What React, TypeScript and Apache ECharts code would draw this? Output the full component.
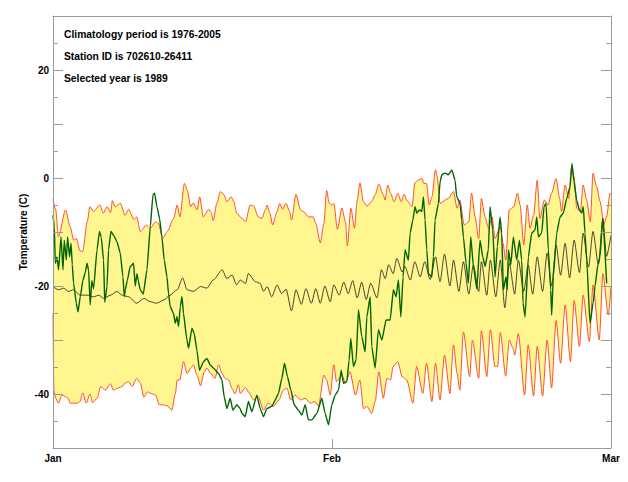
import React, { useEffect, useRef } from "react";
import * as echarts from "echarts";

// x = days since 1 Jan, y = temperature (C)
const monthLabels = ["Jan", "Feb", "Mar"];
const yTickLabels = [20, 0, -20, -40];
const yAxisTitle = "Temperature (C)";
const infoLines = [
  "Climatology period is 1976-2005",
  "Station ID is 702610-26411",
  "Selected year is 1989",
];

const maxEnvelope: number[][] = [
  [0,-3.9],[0.3,-5.9],[0.6,-10.9],[1.4,-5.9],[1.9,-9.0],[2.3,-11.5],[2.6,-11.2],[3.0,-13.5],[3.3,-13.6],[3.8,-8.1],[4.1,-5.3],[4.5,-6.2],[5.2,-5.0],[5.6,-6.5],[6.0,-5.3],[6.4,-6.4],[6.6,-4.2],[6.9,-5.3],[7.5,-4.7],[8.0,-6.9],[8.4,-5.8],[9.0,-7.7],[9.3,-7.2],[9.7,-9.9],[10.4,-8.7],[10.8,-9.3],[11.4,-8.1],[11.7,-8.4],[12.2,-11.2],[12.7,-9.9],[13.4,-7.5],[13.8,-5.0],[14.1,-7.2],[14.6,-1.0],[14.9,-2.2],[15.3,-5.3],[15.6,-4.6],[16.0,-5.9],[16.3,-3.5],[16.7,-7.2],[17.3,-5.8],[17.6,-6.5],[17.8,-7.9],[18.2,-4.7],[18.6,-2.5],[19.0,-3.1],[19.3,-4.4],[19.8,-3.5],[20.1,-4.4],[20.4,-6.5],[21.0,-7.5],[21.4,-8.1],[21.9,-5.0],[22.3,-5.2],[22.8,-7.2],[23.2,-7.5],[23.6,-5.9],[23.8,-5.0],[24.1,-6.5],[24.4,-8.7],[24.9,-6.2],[25.2,-4.7],[25.5,-5.8],[25.9,-4.7],[26.3,-6.2],[26.5,-7.8],[27.0,-3.0],[27.5,-5.9],[27.8,-6.2],[28.4,-7.2],[28.9,-7.2],[29.2,-8.4],[29.7,-12.0],[30.1,-8.4],[30.4,-2.3],[30.7,-4.7],[31.0,-5.0],[31.2,-4.7],[31.6,-9.5],[32.1,-5.6],[32.5,-8.1],[32.7,-12.6],[33.1,-5.6],[33.5,-9.3],[33.8,-4.1],[34.1,-0.9],[34.5,-4.4],[34.9,-5.2],[35.4,-4.4],[35.8,-3.1],[36.2,-1.1],[36.7,-3.1],[36.9,-4.1],[37.2,-1.3],[37.5,-2.8],[37.9,-4.4],[38.3,-2.8],[38.7,-4.4],[39.0,-3.0],[39.3,-4.1],[39.9,-5.3],[40.2,-0.9],[40.6,-0.4],[41.0,-0.1],[41.2,-1.0],[41.5,-1.0],[41.8,-5.0],[42.1,-3.5],[42.5,1.5],[42.7,0.2],[43.0,-4.7],[43.9,-3.8],[44.5,-2.5],[44.9,-5.6],[45.2,-4.1],[45.7,-8.7],[46.2,-8.1],[46.5,-2.8],[46.9,-7.2],[47.3,-11.2],[47.6,-3.8],[48.0,-7.2],[48.4,-9.3],[48.8,-7.2],[49.1,-11.2],[49.7,-9.0],[50.0,-12.1],[50.3,-15.2],[50.7,-5.9],[51.2,-5.3],[51.6,-2.8],[51.9,-5.0],[52.3,-12.4],[52.7,-5.0],[53.0,-9.3],[53.4,-6.9],[53.8,-0.4],[54.1,-7.5],[54.6,-4.1],[55.0,-5.0],[55.4,-2.8],[55.9,-0.1],[56.3,-3.8],[56.5,-6.2],[56.9,-1.3],[57.3,-3.8],[57.6,1.8],[57.9,0.2],[58.2,-5.6],[58.6,-6.2],[58.9,-1.3],[59.3,-4.1],[59.7,-8.1],[60.0,0.9],[60.4,-1.6],[60.8,-4.4],[61.2,-8.7],[61.5,-7.2],[61.9,-2.8],[62,-3.0]
];

const minEnvelope: number[][] = [
  [0,-25.1],[0.1,-39.3],[0.3,-40.8],[0.6,-41.7],[1.0,-40.2],[1.4,-40.5],[1.7,-40.8],[1.9,-41.7],[2.7,-41.7],[3.0,-41.4],[3.3,-39.8],[3.7,-41.7],[4.1,-40.0],[4.4,-41.6],[4.9,-40.8],[5.3,-38.6],[5.8,-39.3],[6.4,-38.1],[6.7,-39.3],[7.2,-38.9],[7.7,-38.6],[8.0,-38.0],[8.4,-37.7],[8.8,-38.6],[9.3,-37.1],[9.7,-38.0],[10.1,-40.6],[10.5,-39.6],[10.9,-39.9],[11.4,-40.2],[11.8,-42.0],[12.3,-42.0],[12.7,-42.2],[13.2,-43.0],[13.6,-39.9],[13.8,-37.4],[14.1,-37.4],[14.5,-34.0],[14.9,-36.2],[15.3,-35.2],[15.6,-34.6],[16.0,-36.5],[16.4,-38.5],[16.8,-35.9],[17.1,-35.2],[17.5,-36.2],[18.0,-37.1],[18.4,-34.6],[18.8,-36.2],[19.1,-37.1],[19.5,-37.4],[19.9,-39.0],[20.2,-40.0],[20.6,-38.3],[20.8,-39.9],[21.4,-38.8],[21.7,-39.6],[22.3,-41.1],[22.8,-40.5],[23.4,-43.0],[23.9,-41.7],[24.5,-42.3],[25.1,-41.1],[25.6,-39.3],[26.0,-38.9],[26.4,-41.1],[26.9,-40.2],[27.5,-41.1],[28.0,-40.8],[28.6,-41.7],[29.1,-41.4],[29.5,-42.3],[30.1,-36.5],[30.4,-37.4],[30.8,-40.2],[31.2,-34.6],[31.5,-37.7],[32.1,-36.5],[32.5,-38.0],[33.0,-35.9],[33.6,-40.2],[34.1,-37.4],[34.5,-42.7],[34.9,-42.3],[35.4,-43.6],[35.8,-41.4],[36.2,-35.9],[36.7,-40.8],[37.1,-37.1],[37.5,-37.4],[37.8,-34.9],[38.3,-34.0],[38.8,-36.8],[39.3,-37.4],[40.0,-41.7],[40.4,-34.9],[41.1,-39.9],[41.5,-34.3],[42.1,-41.4],[42.5,-34.3],[43.0,-41.1],[43.5,-32.8],[44.1,-39.9],[44.5,-30.9],[44.9,-36.2],[45.2,-39.3],[45.6,-28.5],[46.3,-36.8],[46.6,-30.0],[47.3,-37.1],[47.6,-28.3],[48.2,-36.8],[48.6,-28.1],[49.1,-34.9],[49.4,-34.9],[49.7,-28.6],[50.3,-36.7],[50.7,-30.0],[51.1,-31.5],[51.3,-32.8],[51.7,-28.8],[52.4,-40.2],[52.8,-30.9],[53.4,-40.4],[53.8,-31.2],[54.4,-40.4],[54.9,-30.0],[55.4,-38.9],[55.9,-26.4],[56.4,-34.3],[56.9,-23.5],[57.5,-34.0],[57.9,-22.7],[58.5,-31.2],[58.9,-21.7],[59.6,-30.3],[60.0,-19.8],[60.7,-30.0],[61.1,-17.7],[61.7,-25.4],[62,-20.1]
];

const meanClimatology: number[][] = [
  [0,-20.1],[0.6,-20.7],[1.2,-20.4],[1.7,-21.0],[2.3,-20.7],[3.0,-21.7],[3.8,-21.7],[4.5,-22.0],[5.1,-21.7],[5.6,-22.3],[6.4,-21.7],[7.1,-21.0],[7.7,-21.7],[8.4,-22.0],[9.3,-23.2],[10.1,-22.3],[10.8,-22.9],[11.5,-23.2],[12.3,-22.6],[13.0,-21.7],[13.8,-20.7],[14.4,-18.5],[14.9,-20.7],[15.6,-21.0],[16.4,-20.1],[17.1,-20.4],[17.8,-18.9],[18.8,-17.0],[19.3,-18.6],[19.9,-18.0],[20.4,-19.8],[20.8,-18.9],[21.4,-19.5],[21.7,-17.7],[22.5,-19.2],[23.0,-19.5],[23.4,-21.0],[23.8,-20.1],[24.3,-22.0],[24.9,-19.8],[25.4,-21.4],[25.9,-20.6],[26.5,-24.6],[27.0,-20.7],[27.6,-23.4],[28.1,-20.5],[28.7,-23.2],[29.2,-20.5],[29.7,-23.2],[30.2,-20.0],[30.8,-22.9],[31.2,-19.8],[31.8,-21.7],[32.3,-19.3],[32.8,-21.4],[33.3,-19.0],[33.8,-22.2],[34.3,-19.3],[34.8,-22.5],[35.3,-19.5],[36.0,-22.2],[36.5,-17.0],[36.9,-18.6],[37.3,-16.1],[37.8,-17.7],[38.2,-14.9],[38.8,-17.4],[39.1,-16.4],[39.7,-18.9],[40.2,-15.5],[40.8,-18.3],[41.3,-15.5],[41.9,-18.8],[42.5,-14.6],[43.0,-19.2],[43.5,-14.1],[44.1,-20.0],[44.5,-15.2],[45.1,-21.0],[45.6,-15.5],[46.2,-21.5],[46.7,-16.1],[47.3,-21.0],[47.6,-15.5],[48.2,-21.7],[48.6,-15.2],[49.2,-22.0],[49.7,-15.2],[50.2,-24.0],[50.7,-15.8],[51.3,-21.5],[51.7,-15.2],[52.3,-21.0],[52.8,-16.1],[53.3,-21.5],[53.8,-14.6],[54.4,-21.0],[54.9,-13.9],[55.4,-20.0],[55.9,-12.4],[56.4,-18.0],[56.9,-12.1],[57.4,-18.5],[57.9,-11.5],[58.5,-17.5],[58.9,-10.2],[59.5,-16.5],[60.0,-9.9],[60.6,-16.0],[61.1,-7.5],[61.5,-14.5],[62,-10.6]
];

const observed1989: number[][] = [
  [0,-6.9],[0.14,-9.0],[0.26,-15.8],[0.44,-14.6],[0.62,-17.0],[0.89,-10.9],[1.11,-17.0],[1.25,-11.5],[1.48,-15.2],[1.62,-10.9],[1.84,-14.6],[2.0,-12.1],[2.14,-16.0],[2.29,-19.5],[2.59,-23.2],[2.78,-24.8],[3.03,-22.0],[3.33,-18.9],[3.59,-17.5],[3.78,-15.8],[3.95,-17.0],[4.14,-23.5],[4.31,-19.0],[4.51,-20.5],[4.89,-13.3],[5.17,-9.9],[5.36,-11.0],[5.62,-15.2],[5.75,-23.0],[6.0,-20.1],[6.17,-13.3],[6.44,-9.9],[6.73,-10.6],[7.11,-11.8],[7.47,-13.9],[7.77,-18.3],[7.92,-22.0],[8.03,-20.7],[8.25,-19.0],[8.58,-16.4],[8.95,-15.8],[9.14,-20.0],[9.33,-17.7],[9.47,-19.0],[9.69,-20.7],[10.03,-21.5],[10.44,-17.0],[10.81,-9.0],[11.11,-3.1],[11.28,-2.8],[11.55,-5.3],[11.84,-7.5],[12.10,-10.9],[12.36,-15.2],[12.66,-18.3],[12.84,-21.4],[13.02,-23.8],[13.39,-25.1],[13.58,-26.9],[13.77,-25.7],[13.95,-27.5],[14.14,-23.8],[14.33,-22.0],[14.50,-25.1],[14.88,-30.0],[15.06,-31.5],[15.44,-27.8],[15.69,-28.8],[15.99,-31.9],[16.28,-35.6],[16.72,-34.0],[17.10,-33.4],[17.47,-34.6],[17.83,-35.2],[18.39,-36.2],[18.77,-37.4],[19.02,-40.5],[19.32,-42.7],[19.69,-40.8],[19.99,-43.0],[20.43,-42.0],[20.80,-42.7],[20.99,-43.6],[21.35,-44.2],[21.72,-41.4],[22.10,-43.3],[22.65,-40.2],[23.02,-42.7],[23.39,-44.2],[23.76,-42.7],[24.32,-42.3],[24.69,-41.1],[25.05,-39.9],[25.43,-37.1],[25.72,-34.3],[26.05,-36.8],[26.43,-39.3],[26.80,-42.0],[27.27,-43.0],[27.65,-43.9],[28.02,-42.0],[28.38,-44.8],[28.76,-44.8],[29.32,-43.6],[29.87,-40.8],[30.24,-43.6],[30.61,-45.7],[30.98,-42.0],[31.35,-40.2],[31.72,-39.3],[32.02,-35.6],[32.27,-38.0],[32.65,-37.7],[32.90,-33.7],[33.09,-29.7],[33.38,-34.9],[33.68,-33.7],[33.94,-24.4],[34.31,-29.4],[34.68,-32.2],[34.87,-25.7],[35.24,-22.0],[35.42,-31.2],[35.79,-35.2],[36.16,-28.1],[36.54,-30.0],[37.01,-26.3],[37.46,-26.3],[37.82,-20.7],[38.12,-22.0],[38.38,-18.9],[38.65,-25.7],[38.90,-18.3],[39.12,-13.3],[39.49,-15.2],[39.68,-10.2],[39.98,-7.8],[40.23,-5.3],[40.42,-6.5],[40.71,-5.9],[40.98,-6.2],[41.16,-3.5],[41.34,-7.8],[41.53,-13.3],[41.71,-17.7],[42.09,-18.3],[42.27,-14.6],[42.45,-7.8],[42.82,-4.7],[43.01,-0.7],[43.20,0.6],[43.56,0.9],[43.93,0.6],[44.31,1.5],[44.67,-0.4],[44.86,-3.5],[45.23,-4.7],[45.42,-7.8],[45.60,-10.9],[45.90,-15.8],[46.15,-19.5],[46.42,-10.9],[46.71,-16.4],[47.09,-20.5],[47.45,-11.5],[47.75,-14.6],[48.01,-16.4],[48.37,-13.3],[48.56,-5.3],[48.86,-9.6],[49.12,-18.3],[49.37,-12.7],[49.67,-7.2],[49.86,-10.2],[50.04,-20.7],[50.34,-18.3],[50.48,-20.7],[50.60,-13.3],[50.86,-16.1],[51.15,-10.9],[51.53,-15.2],[51.82,-11.5],[52.08,-15.2],[52.23,-23.2],[52.45,-25.7],[52.82,-14.6],[53.19,-10.2],[53.56,-9.6],[53.75,-7.2],[53.93,-10.9],[54.30,-10.2],[54.56,-5.3],[54.78,-4.7],[55.04,-13.3],[55.30,-20.7],[55.41,-25.4],[55.59,-18.3],[55.97,-10.2],[56.34,-7.2],[56.70,-6.5],[57.08,-3.8],[57.45,-1.6],[57.67,2.7],[57.89,-0.7],[58.19,-4.1],[58.48,-5.9],[58.75,-6.5],[58.92,-5.3],[59.11,-10.2],[59.30,-15.2],[59.67,-26.9],[60.03,-23.0],[60.22,-20.1],[60.55,-16.0],[60.78,-14.6],[61.08,-7.5],[61.52,-19.5]
];

const FONT = "'Liberation Sans', Arial, Helvetica, sans-serif";
const AXIS_GREY = "#9a9a9a";
const RED = "#ff4d2e";
const YELLOW = "#fff68f";
const GREEN = "#006400";

export default function App() {
  const ref = useRef<HTMLDivElement>(null);

  useEffect(() => {
    if (!ref.current) return;
    const chart = echarts.init(ref.current, null, { renderer: "svg" });

    const yLabelFmt = (v: number) => (yTickLabels.includes(v) ? String(v) : "");
    const xLabelFmt = (v: number) => monthLabels[Math.round(v / 31)] ?? "";

    const baseY = {
      type: "value",
      min: -50,
      max: 30,
      interval: 10,
      z: 10,
      splitLine: { show: false },
      axisLine: { show: true, onZero: false, lineStyle: { color: AXIS_GREY, width: 1 } },
      axisTick: { show: true, inside: true, length: 10, lineStyle: { color: AXIS_GREY } },
      minorTick: { show: true, splitNumber: 2, length: 5, lineStyle: { color: AXIS_GREY } },
    };

    const infoGraphics = infoLines.map((t, i) => ({
      type: "text",
      left: 64,
      top: 29 + i * 22,
      z: 20,
      style: {
        text: t,
        fill: "#000",
        font: `bold 10.3px ${FONT}`,
      },
    }));

    const option: any = {
      animation: false,
      backgroundColor: "#ffffff",
      grid: { left: 53, right: 17, top: 16, bottom: 34, containLabel: false },
      xAxis: [
        {
          type: "value",
          min: 0,
          max: 62,
          interval: 31,
          position: "bottom",
          z: 10,
          splitLine: { show: false },
          axisLine: { show: true, onZero: false, lineStyle: { color: AXIS_GREY, width: 1 } },
          axisTick: { show: true, inside: true, length: 9, lineStyle: { color: AXIS_GREY } },
          axisLabel: {
            formatter: xLabelFmt,
            color: "#000",
            fontFamily: FONT,
            fontWeight: "bold",
            fontSize: 10,
            margin: 5,
            showMinLabel: true,
            showMaxLabel: true,
          },
        },
        {
          type: "value",
          min: 0,
          max: 62,
          interval: 31,
          position: "top",
          z: 10,
          splitLine: { show: false },
          axisLine: { show: true, onZero: false, lineStyle: { color: AXIS_GREY, width: 1 } },
          axisTick: { show: false },
          axisLabel: { show: false },
        },
      ],
      yAxis: [
        {
          ...baseY,
          position: "left",
          axisLabel: {
            formatter: yLabelFmt,
            color: "#000",
            fontFamily: FONT,
            fontWeight: "bold",
            fontSize: 10,
            margin: 4,
            showMinLabel: true,
            showMaxLabel: true,
          },
        },
        {
          ...baseY,
          position: "right",
          axisLabel: { show: false },
        },
      ],
      graphic: [
        ...infoGraphics,
        {
          type: "text",
          x: 23,
          y: 232,
          rotation: Math.PI / 2,
          z: 20,
          style: {
            text: yAxisTitle,
            fill: "#000",
            font: `bold 10px ${FONT}`,
            align: "center",
            verticalAlign: "middle",
          },
        },
      ],
      series: [
        {
          type: "line",
          data: maxEnvelope,
          xAxisIndex: 0,
          yAxisIndex: 0,
          showSymbol: false,
          smooth: 0.25,
          smoothMonotone: "x",
          z: 2,
          lineStyle: { color: RED, width: 1 },
          areaStyle: { color: YELLOW, opacity: 1, origin: "start" },
        },
        {
          type: "line",
          data: minEnvelope,
          showSymbol: false,
          smooth: 0.25,
          smoothMonotone: "x",
          z: 3,
          lineStyle: { color: RED, width: 1 },
          areaStyle: { color: "#ffffff", opacity: 1, origin: "start" },
        },
        {
          type: "line",
          data: meanClimatology,
          showSymbol: false,
          smooth: 0.25,
          smoothMonotone: "x",
          z: 4,
          lineStyle: { color: "#1a1a1a", width: 0.8 },
        },
        {
          type: "line",
          data: observed1989,
          showSymbol: false,
          smooth: 0.15,
          smoothMonotone: "x",
          z: 5,
          lineStyle: { color: GREEN, width: 1.4 },
        },
      ],
    };

    chart.setOption(option);
    return () => chart.dispose();
  }, []);

  return (
    <div
      ref={ref}
      style={{ position: "fixed", left: 0, top: 0, width: 628, height: 482, background: "#fff" }}
    />
  );
}
